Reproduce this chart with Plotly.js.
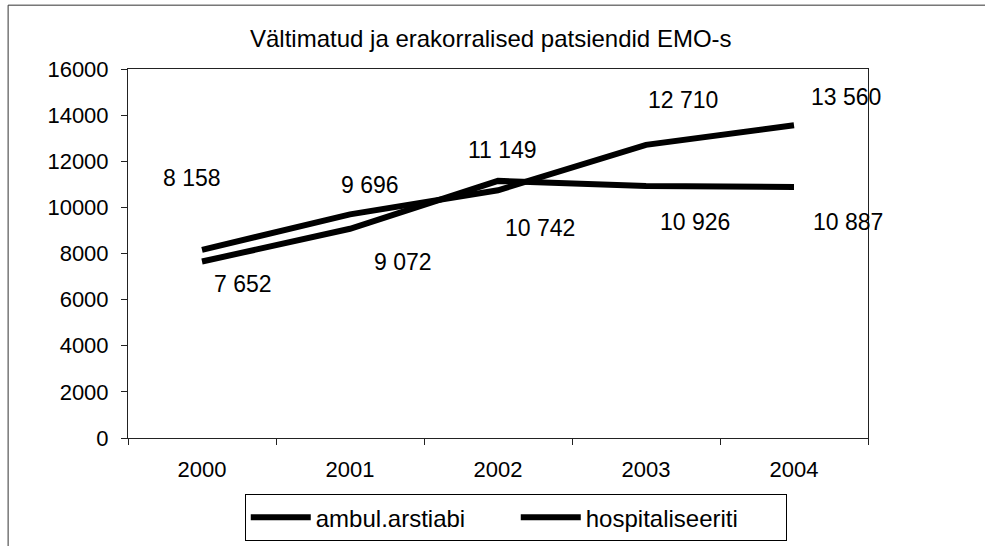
<!DOCTYPE html>
<html>
<head>
<meta charset="utf-8">
<script src="https://cdn.plot.ly/plotly-3.0.1.min.js"></script>
<style>html,body{margin:0;padding:0;background:#fff;}#chart{width:985px;height:546px;}</style>
</head>
<body>
<div id="chart"></div>
<script>
const years = ['2000', '2001', '2002', '2003', '2004'];
const ambulValues = [8158, 9696, 10742, 12710, 13560];
const hospitalValues = [7652, 9072, 11149, 10926, 10887];
const seriesNames = ['ambul.arstiabi', 'hospitaliseeriti'];
const yTickVals = [0, 2000, 4000, 6000, 8000, 10000, 12000, 14000, 16000];

// label offsets (pixels) – styling only
const upperShift = [[-10, 72], [20, 29], [4, 31], [37, 45], [52, 28]];
const lowerShift = [[41, -22], [53, -33], [42, -38], [49, -36], [54, -35]];

function fmt(v) {
  const s = String(v);
  return s.length > 3 ? s.slice(0, s.length - 3) + ' ' + s.slice(-3) : s;
}

const font = 'Liberation Sans, Arial, sans-serif';
const traces = [
  {x: years, y: ambulValues, name: seriesNames[0], type: 'scatter', mode: 'lines',
   line: {color: '#000', width: 6}},
  {x: years, y: hospitalValues, name: seriesNames[1], type: 'scatter', mode: 'lines',
   line: {color: '#000', width: 6}}
];

const annotations = [];
years.forEach((yr, i) => {
  const a = ambulValues[i], h = hospitalValues[i];
  const hi = Math.max(a, h), lo = Math.min(a, h);
  const us = upperShift[i], ls = lowerShift[i];
  annotations.push({x: i, y: hi, text: fmt(hi), showarrow: false, xshift: us[0], yshift: us[1],
    font: {family: font, size: 23, color: '#000'}});
  annotations.push({x: i, y: lo, text: fmt(lo), showarrow: false, xshift: ls[0], yshift: ls[1],
    font: {family: font, size: 23, color: '#000'}});
});
annotations.push({xref: 'paper', yref: 'paper', x: 0.49, y: 1.0, yanchor: 'middle', yshift: 31, showarrow: false,
  text: 'Vältimatud ja erakorralised patsiendid EMO-s', font: {family: font, size: 24, color: '#000'}});

const layout = {
  width: 985, height: 546,
  margin: {l: 128, r: 117, t: 69, b: 108},
  paper_bgcolor: '#fff', plot_bgcolor: '#fff',
  font: {family: font, size: 22, color: '#000'},
  showlegend: true,
  legend: {orientation: 'h', x: 0.524, xanchor: 'center', yref: 'container', y: 0.095, yanchor: 'top',
    bordercolor: '#000', borderwidth: 1, bgcolor: '#fff', entrywidth: 195, itemwidth: 60,
    font: {family: font, size: 24, color: '#000'}},
  xaxis: {type: 'category', range: [-0.5, 4.5], autorange: false, tickson: 'boundaries', ticks: 'outside', ticklen: 6, tickcolor: '#222',
    showline: true, linecolor: '#222', linewidth: 1, mirror: true, showgrid: false, zeroline: false,
    tickangle: 0, ticklabelstandoff: 12, tickfont: {family: font, size: 22, color: '#000'}},
  yaxis: {range: [0, 16000], autorange: false, tickvals: yTickVals, ticktext: yTickVals.map(String),
    ticks: 'outside', ticklen: 6, tickcolor: '#222',
    showline: true, linecolor: '#222', linewidth: 1, mirror: true, showgrid: false, zeroline: false,
    ticklabelstandoff: 8, tickfont: {family: font, size: 22, color: '#000'}},
  annotations: annotations,
  shapes: [{type: 'rect', xref: 'paper', yref: 'paper', x0: -0.162, x1: 1.17, y0: -0.35, y1: 1.173,
    line: {color: '#333', width: 1}, layer: 'below'}]
};

Plotly.newPlot('chart', traces, layout, {displayModeBar: false, staticPlot: true});
</script>
</body>
</html>
